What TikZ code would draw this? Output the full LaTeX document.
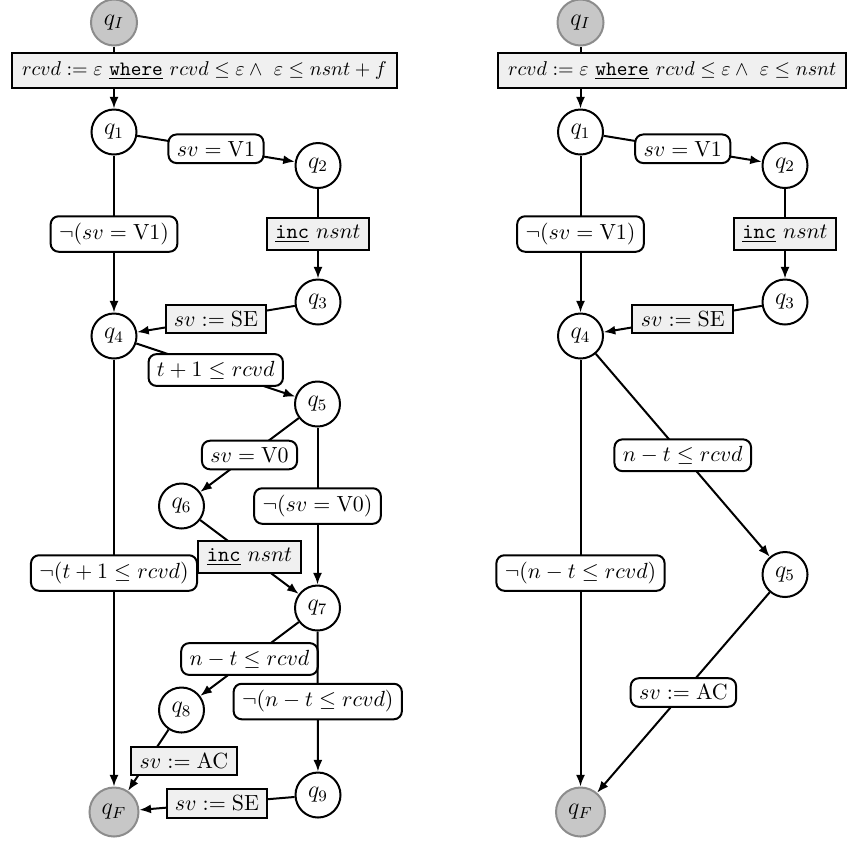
\documentclass[tikz,border=0pt]{standalone}
\usepackage{amsmath,amssymb}
\usetikzlibrary{arrows.meta}
\tikzset{
  lblfont/.style={font=\fontsize{10.7}{13}\selectfont},
  stfont/.style={font=\fontsize{11.5}{14}\selectfont},
  st/.style={circle,draw,line width=1pt,minimum size=22.5pt,inner sep=0pt,fill=white,stfont},
  ini/.style={circle,draw=black!45,fill=black!22,line width=1pt,minimum size=23pt,inner sep=0pt,stfont},
  fin/.style={circle,draw=black!45,fill=black!22,line width=1pt,minimum size=24.5pt,inner sep=0pt,stfont},
  grd/.style={draw,line width=1pt,rounded corners=4pt,fill=white,inner xsep=4.2pt,inner ysep=3.4pt,lblfont},
  act/.style={draw,line width=1pt,fill=black!6,inner xsep=4.2pt,inner ysep=3.4pt,lblfont},
  initbox/.style={draw,line width=1pt,fill=black!6,inner xsep=5pt,inner ysep=4pt,font=\fontsize{10.2}{12}\selectfont},
  tr/.style={line width=1pt,-{Latex[length=5.8pt,width=4.5pt]}},
}
\newcommand{\kw}[1]{\underline{\texttt{#1}}}
\begin{document}
\begin{tikzpicture}[x=0.5pt,y=-0.5pt]
\useasboundingbox (0,0) rectangle (865,842);
% ---------------- left automaton ----------------
\node[ini] (qIL) at (114,22.5) {$q_I$};
\node[st] (q1L) at (114,132) {$q_1$};
\node[st] (q2L) at (318,165.5) {$q_2$};
\node[st] (q3L) at (318,302) {$q_3$};
\node[st] (q4L) at (114,336) {$q_4$};
\node[st] (q5L) at (317.5,404) {$q_5$};
\node[st] (q6L) at (181.5,506) {$q_6$};
\node[st] (q7L) at (317.5,608) {$q_7$};
\node[st] (q8L) at (181.5,710) {$q_8$};
\node[st] (q9L) at (318,795) {$q_9$};
\node[fin] (qFL) at (114,812) {$q_F$};

\draw[tr] (qIL) -- (q1L);
\node[initbox,anchor=west] (initL) at (11,70.5) {$rcvd := \varepsilon\ \kw{where}\ rcvd \leq \varepsilon \land\ \varepsilon \leq nsnt + f$};
\draw[tr] (q1L) -- node[grd] (g1L) {$sv = \mathrm{V1}$} (q2L);
\draw[tr] (q1L) -- node[grd] (g2L) {$\neg(sv = \mathrm{V1})$} (q4L);
\draw[tr] (q2L) -- node[act] (a1L) {$\kw{inc}\ nsnt$} (q3L);
\draw[tr] (q3L) -- node[act] (a2L) {$sv := \mathrm{SE}$} (q4L);
\draw[tr] (q4L) -- node[grd] (g3L) {$t+1 \leq rcvd$} (q5L);
\draw[tr] (q4L) -- node[grd] (g4L) {$\neg(t+1 \leq rcvd)$} (qFL);
\draw[tr] (q5L) -- node[grd] (g5L) {$sv = \mathrm{V0}$} (q6L);
\draw[tr] (q5L) -- node[grd] (g6L) {$\neg(sv = \mathrm{V0})$} (q7L);
\draw[tr] (q6L) -- node[act] (a3L) {$\kw{inc}\ nsnt$} (q7L);
\draw[tr] (q7L) -- node[grd] (g7L) {$n-t \leq rcvd$} (q8L);
\draw[tr] (q7L) -- node[grd] (g8L) {$\neg(n-t \leq rcvd)$} (q9L);
\draw[tr] (q8L) -- (qFL);
\node[act] (a4L) at (184,761) {$sv := \mathrm{AC}$};
\draw[tr] (q9L) -- node[act] (a5L) {$sv := \mathrm{SE}$} (qFL);

% ---------------- right automaton ----------------
\node[ini] (qIR) at (580.5,22.5) {$q_I$};
\node[st] (q1R) at (580.5,132) {$q_1$};
\node[st] (q2R) at (785,165.5) {$q_2$};
\node[st] (q3R) at (785,302) {$q_3$};
\node[st] (q4R) at (580.5,336) {$q_4$};
\node[st] (q5R) at (785,574.5) {$q_5$};
\node[fin] (qFR) at (580.5,812) {$q_F$};

\draw[tr] (qIR) -- (q1R);
\node[initbox,anchor=west] (initR) at (497,70.5) {$rcvd := \varepsilon\ \kw{where}\ rcvd \leq \varepsilon \land\ \varepsilon \leq nsnt$};
\draw[tr] (q1R) -- node[grd] (g1R) {$sv = \mathrm{V1}$} (q2R);
\draw[tr] (q1R) -- node[grd] (g2R) {$\neg(sv = \mathrm{V1})$} (q4R);
\draw[tr] (q2R) -- node[act] (a1R) {$\kw{inc}\ nsnt$} (q3R);
\draw[tr] (q3R) -- node[act] (a2R) {$sv := \mathrm{SE}$} (q4R);
\draw[tr] (q4R) -- node[grd] (g3R) {$n-t \leq rcvd$} (q5R);
\draw[tr] (q4R) -- node[grd] (g4R) {$\neg(n-t \leq rcvd)$} (qFR);
\draw[tr] (q5R) -- node[grd] (g5R) {$sv := \mathrm{AC}$} (qFR);
\end{tikzpicture}
\end{document}
